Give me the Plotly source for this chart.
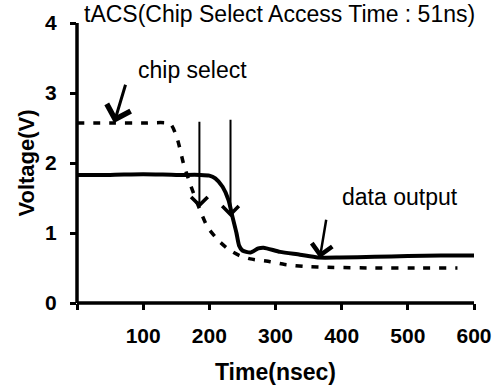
import plotly.graph_objects as go

# Data
t_data = [0, 50, 100, 150, 186, 200, 209, 220, 229, 235, 241, 245, 250, 262, 274, 282, 307, 337, 364, 397, 450, 500, 550, 600]
v_data = [1.83, 1.83, 1.84, 1.83, 1.83, 1.82, 1.78, 1.66, 1.47, 1.23, 1.0, 0.82, 0.75, 0.72, 0.78, 0.79, 0.73, 0.69, 0.65, 0.65, 0.66, 0.67, 0.68, 0.68]

t_cs = [0, 50, 100, 141, 152, 161, 171, 185, 197, 214, 230, 245, 262, 292, 314, 347, 379, 450, 520, 575]
v_cs = [2.57, 2.57, 2.57, 2.56, 2.33, 1.99, 1.7, 1.35, 1.09, 0.89, 0.76, 0.68, 0.63, 0.59, 0.55, 0.52, 0.51, 0.5, 0.5, 0.5]

x_ticks = [0, 100, 200, 300, 400, 500, 600]
x_ticktext = ["", "100", "200", "300", "400", "500", "600"]
y_ticks = [0, 1, 2, 3, 4]

title_text = "tACS(Chip Select Access Time : 51ns)"
label_cs = "chip select"
label_do = "data output"

FONT = "Liberation Sans, Arial, sans-serif"

fig = go.Figure()
fig.add_trace(go.Scatter(x=t_cs, y=v_cs, mode="lines", line=dict(color="black", width=3.5, dash="7px,9px", shape="spline", smoothing=0.6), showlegend=False, hoverinfo="skip", cliponaxis=False))
fig.add_trace(go.Scatter(x=t_data, y=v_data, mode="lines", line=dict(color="black", width=4, shape="spline", smoothing=0.6), showlegend=False, hoverinfo="skip", cliponaxis=False))

axis_common = dict(showgrid=False, showline=False, zeroline=False,
                   ticks="outside", ticklen=6, tickwidth=3, tickcolor="#000000", automargin=False)

fig.update_layout(
    width=496, height=387,
    margin=dict(l=77, r=22, t=23, b=84),
    plot_bgcolor="white", paper_bgcolor="white",
    font=dict(family=FONT, color="black"),
    xaxis=dict(range=[0, 600], tickvals=x_ticks, ticktext=x_ticktext,
               tickfont=dict(size=21, family=FONT, weight="bold"), ticklabelstandoff=8,
               title=dict(text="<b>Time(nsec)</b>", font=dict(size=23), standoff=17), **axis_common),
    yaxis=dict(range=[0, 4], tickvals=y_ticks,
               tickfont=dict(size=21, family=FONT, weight="bold"), ticklabelstandoff=9,
               title=dict(text="<b>Voltage(V)</b>", font=dict(size=22), standoff=4), **axis_common),
)

# axis lines as paper-referenced shapes
fig.add_shape(type="line", xref="paper", yref="paper", x0=0, x1=0, y0=0, y1=1,
              line=dict(color="black", width=3.5), layer="above")
fig.add_shape(type="line", xref="paper", yref="paper", x0=0, x1=1, y0=0, y1=0,
              line=dict(color="black", width=3.5), layer="above")

# text annotations (paper coordinates so they are drawn outside the plotting range too)
fig.add_annotation(x=(82 - 77) / 397, y=(303 - 14) / 280, xref="paper", yref="paper", text=title_text, showarrow=False,
                   xanchor="left", yanchor="middle", font=dict(size=23, family=FONT))
fig.add_annotation(x=89, y=3.33, xref="x", yref="y", text=label_cs, showarrow=False,
                   xanchor="left", yanchor="middle", font=dict(size=23, family=FONT))
fig.add_annotation(x=398, y=1.51, xref="x", yref="y", text=label_do, showarrow=False,
                   xanchor="left", yanchor="middle", font=dict(size=23, family=FONT))

# arrows (head at x,y ; tail at ax,ay)
arrows = [
    (56, 2.57, 74, 3.14, 3),
    (185, 1.36, 185, 2.61, 2),
    (232, 1.23, 232, 2.64, 2),
    (367, 0.64, 377, 1.21, 2.5),
]
for hx, hy, tx, ty, w in arrows:
    fig.add_annotation(x=hx, y=hy, ax=tx, ay=ty, xref="x", yref="y", axref="x", ayref="y",
                       showarrow=True, arrowhead=4, arrowsize=1.6, arrowwidth=w, arrowcolor="black", text="")

fig.write_html("out.html")
